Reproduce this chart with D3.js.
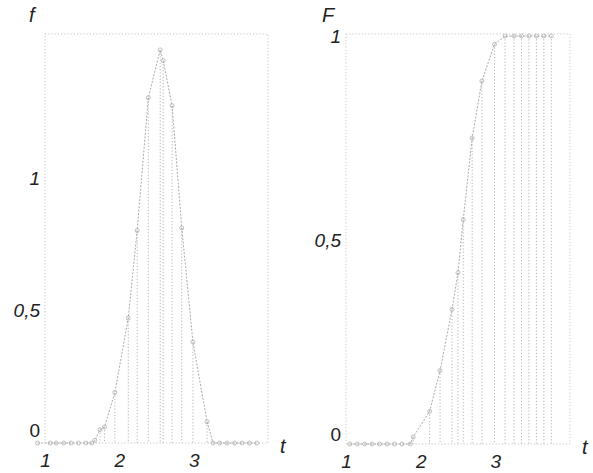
<!DOCTYPE html>
<html><head><meta charset="utf-8">
<script src="https://cdn.jsdelivr.net/npm/d3@7"></script>
<style>
body{margin:0;background:#fff}
svg text{font-family:"Liberation Sans",Arial,sans-serif;fill:#222}
</style></head><body>
<svg id="c" width="593" height="473"></svg>
<script>
// density f(t)
const fT = [0.9, 1.07, 1.15, 1.25, 1.35, 1.45, 1.55, 1.63, 1.67, 1.74, 1.80, 1.94, 2.12, 2.24, 2.39, 2.55, 2.59, 2.71, 2.84, 2.99, 3.18, 3.26, 3.35, 3.45, 3.55, 3.65, 3.75, 3.85];
const fV = [0, 0, 0, 0, 0, 0, 0, 0, 0.01, 0.05, 0.06, 0.19, 0.47, 0.80, 1.30, 1.48, 1.44, 1.27, 0.81, 0.38, 0.08, 0, 0, 0, 0, 0, 0, 0];
// distribution F(t)
const FT = [1.05, 1.15, 1.25, 1.35, 1.45, 1.55, 1.65, 1.75, 1.86, 1.90, 2.12, 2.26, 2.42, 2.50, 2.57, 2.69, 2.82, 2.99, 3.13, 3.25, 3.35, 3.45, 3.55, 3.65, 3.75];
const FV = [0, 0, 0, 0, 0, 0, 0, 0, 0, 0.017, 0.08, 0.18, 0.33, 0.42, 0.55, 0.75, 0.89, 0.98, 1.0, 1.0, 1.0, 1.0, 1.0, 1.0, 1.0];
const xTicks = [1, 2, 3];
const yTicks = [0, 0.5, 1];
const fmt = v => String(v).replace('.', ',');

const svg = d3.select('#c');

function panel(o) {
  const x = d3.scaleLinear().domain([1, 4]).range(o.xr);
  const y = d3.scaleLinear().domain(o.yd).range(o.yr);
  const g = svg.append('g');
  const dot = '1.2,2';
  // frame (dotted)
  g.append('rect').attr('x', x(1)).attr('y', y(o.yd[1])).attr('width', x(4) - x(1)).attr('height', y(0) - y(o.yd[1]))
    .attr('fill', 'none').attr('stroke', '#c4c4c4').attr('stroke-width', 1).attr('stroke-dasharray', dot);
  const pts = o.T.map((t, i) => [t, o.V[i]]);
  // drop lines
  g.selectAll('line.drop').data(pts.filter(p => p[1] > 0.005)).join('line')
    .attr('x1', p => x(p[0])).attr('x2', p => x(p[0]))
    .attr('y1', p => y(p[1])).attr('y2', y(0))
    .attr('stroke', '#b4b4b4').attr('stroke-width', 1).attr('stroke-dasharray', dot);
  // curve
  g.append('path').datum(pts)
    .attr('d', d3.line().x(p => x(p[0])).y(p => y(p[1])))
    .attr('fill', 'none').attr('stroke', '#aaa').attr('stroke-width', 1).attr('stroke-dasharray', '2,1.5');
  g.selectAll('circle').data(pts).join('circle')
    .attr('cx', p => x(p[0])).attr('cy', p => y(p[1])).attr('r', 2)
    .attr('fill', 'none').attr('stroke', '#b0b0b0').attr('stroke-width', 0.8);
  // x axis labels
  const ax = g.append('g').attr('transform', `translate(0,${y(0) + 21})`)
    .call(d3.axisBottom(x).tickValues(xTicks).tickSize(0).tickFormat(d => d));
  ax.select('.domain').remove();
  ax.selectAll('text').attr('dy', 0).attr('font-size', 19).attr('font-style', 'italic').attr('fill', '#222');
  // y axis labels
  const ay = g.append('g').attr('transform', `translate(${x(1) - 2},0)`)
    .call(d3.axisLeft(y).tickValues(yTicks).tickSize(0).tickFormat(fmt));
  ay.select('.domain').remove();
  ay.selectAll('text').attr('font-size', 19).attr('fill', '#222')
    .attr('font-style', d => d === 0 ? 'normal' : 'italic')
    .attr('dy', d => d === 0 ? o.zeroDy : '0.35em');
  // axis names
  g.append('text').attr('x', o.nameX).attr('y', 22).attr('font-size', 20).attr('font-style', 'italic').text(o.name);
  g.append('text').attr('x', x(4) + 12).attr('y', y(0) + 10).attr('font-size', 20).attr('font-style', 'italic').text('t');
}

panel({ T: fT, V: fV, xr: [45, 268], yd: [0, 1.54], yr: [443, 34], name: 'f', nameX: 29, zeroDy: '-0.35em' });
panel({ T: FT, V: FV, xr: [346, 570], yd: [0, 1.005], yr: [444, 34], name: 'F', nameX: 322, zeroDy: '-0.2em' });
</script>
</body></html>
